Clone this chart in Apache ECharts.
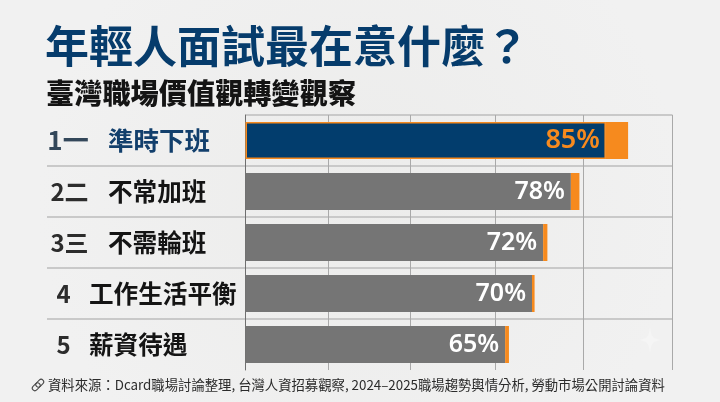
<!DOCTYPE html>
<html><head><meta charset="utf-8">
<style>html,body{margin:0;padding:0;background:#eeeeed}#c{width:720px;height:402px}</style>
<script src="https://cdn.jsdelivr.net/npm/echarts@6/dist/echarts.min.js"></script>
</head><body><div id="c"></div>
<script>
const titleText = '年輕人面試最在意什麼？';
const subtitleText = '臺灣職場價值觀轉變觀察';
const sourceText = '資料來源：Dcard職場討論整理, 台灣人資招募觀察, 2024–2025職場趨勢輿情分析, 勞動市場公開討論資料';
const ranks = ['1一', '2二', '3三', '4', '5'];
const categories = ['準時下班', '不常加班', '不需輪班', '工作生活平衡', '薪資待遇'];
const percentLabels = [85, 78, 72, 70, 65];
const barBody = [84.4, 76.2, 69.7, 67.1, 60.8];
const barTip = [5.2, 2.0, 1.0, 0.6, 0.9];
const gridTicks = [0, 19.3, 38.6, 58.4, 79.2, 100];

const cjk = '"Noto Sans CJK TC","Noto Sans CJK SC",sans-serif';
const navy = '#023d6d', grey = '#757575', orange = '#f68a1e';
const hLine = '#c9c9c9', vLine = '#a9a9a9';

const chart = echarts.init(document.getElementById('c'), null, {renderer: 'canvas'});
chart.setOption({
  animation: false,
  backgroundColor: {type: 'radial', x: 0.5, y: 0.5, r: 0.8,
    colorStops: [{offset: 0, color: '#ececeb'}, {offset: 1, color: '#f1f1f1'}]},
  title: [
    {text: titleText, left: 45, top: 24, padding: 0, textStyle: {fontFamily: cjk, fontSize: 44, fontWeight: 700, color: '#063c6c'}},
    {text: subtitleText, left: 46, top: 79, padding: 0, textStyle: {fontFamily: cjk, fontSize: 28.2, fontWeight: 900, color: '#141414'}},
    {text: sourceText, left: 48, top: 378, padding: 0, textStyle: {fontFamily: cjk, fontSize: 13.35, fontWeight: 400, color: '#2b2b2b'}}
  ],
  grid: [
    {left: 245.5, width: 427, top: 115, height: 255},
    {left: 47, width: 198.5, top: 115, height: 255}
  ],
  xAxis: [
    {type: 'value', gridIndex: 0, min: 0, max: 100,
     axisLabel: {show: false}, axisLine: {show: false},
     axisTick: {show: false, customValues: gridTicks},
     splitLine: {show: true, lineStyle: {color: vLine, width: 1}}},
    {type: 'value', gridIndex: 1, min: 0, max: 100, show: false}
  ],
  yAxis: [
    {type: 'category', gridIndex: 0, inverse: true, data: categories,
     axisLabel: {show: false}, axisTick: {show: false},
     axisLine: {show: true, lineStyle: {color: '#6f6f6f', width: 1}},
     splitLine: {show: true, showMaxLine: false, lineStyle: {color: hLine, width: 2}}},
    {type: 'category', gridIndex: 1, position: 'left', inverse: true, data: categories,
     axisLine: {show: false}, axisTick: {show: false},
     splitLine: {show: true, showMinLine: false, showMaxLine: false, lineStyle: {color: hLine, width: 2}},
     axisLabel: {align: 'left', margin: -42, interval: 0,
       formatter: (v, i) => (i < 3 ? '{ind|}' : '') + (i === 0 ? '{first|' + v + '}' : '{name|' + v + '}'),
       rich: {
         ind: {width: 19},
         first: {fontFamily: cjk, fontSize: 25.5, fontWeight: 700, color: '#123f6c'},
         name: {fontFamily: cjk, fontSize: 24.6, fontWeight: 700, color: '#141414'}
       }}},
    {type: 'category', gridIndex: 1, position: 'left', offset: 0, inverse: true, data: ranks,
     axisLine: {show: false}, axisTick: {show: false},
     axisLabel: {align: 'center', margin: -22, interval: 0,
       formatter: (v, i) => i === 0 ? '{a|' + v + '}' : (i < 3 ? '{b|' + v + '}' : '{c|' + v + '}'),
       rich: {
         a: {fontFamily: cjk, fontSize: 26, fontWeight: 700, color: '#33475a', padding: [0, 2, 0, 0]},
         b: {fontFamily: cjk, fontSize: 24, fontWeight: 700, color: '#2c2c2c', padding: [0, 0, 0, 1]},
         c: {fontFamily: cjk, fontSize: 24, fontWeight: 700, color: '#2c2c2c', padding: [0, 11, 0, 0]}
       }}}
  ],
  series: [
    {type: 'bar', name: 'body', stack: 'b', xAxisIndex: 0, yAxisIndex: 0, barWidth: 37,
     data: barBody.map((v, i) => ({
       value: v,
       itemStyle: i === 0 ? {color: navy, borderColor: orange, borderWidth: 1.5} : {color: grey},
       label: i === 0 ? {color: orange, fontSize: 27} : {color: '#ffffff', fontSize: 25}
     })),
     label: {show: true, position: 'insideRight', distance: 6,
       fontFamily: '"Noto Sans",sans-serif', fontWeight: 600,
       formatter: p => percentLabels[p.dataIndex] + '%'}},
    {type: 'bar', name: 'tip', stack: 'b', xAxisIndex: 0, yAxisIndex: 0, barWidth: 37,
     itemStyle: {color: orange}, data: barTip}
  ],
  graphic: [
    {type: 'polygon', silent: true,
     shape: {points: [[650,327],[651.5,335],[654,338],[660,340],[654,342],[651.5,345],[650,353],[648.5,345],[646,342],[640,340],[646,338],[648.5,335]]},
     style: {fill: '#f5f5f5'}},
    {type: 'group', x: 38, y: 385, rotation: Math.PI / 4, children: [
      {type: 'rect', shape: {x: -7, y: -2.6, width: 9, height: 5.2, r: 2.6}, style: {fill: 'none', stroke: '#444', lineWidth: 1}},
      {type: 'rect', shape: {x: -2, y: -2.6, width: 9, height: 5.2, r: 2.6}, style: {fill: 'none', stroke: '#444', lineWidth: 1}}
    ]}
  ]
});
</script></body></html>
